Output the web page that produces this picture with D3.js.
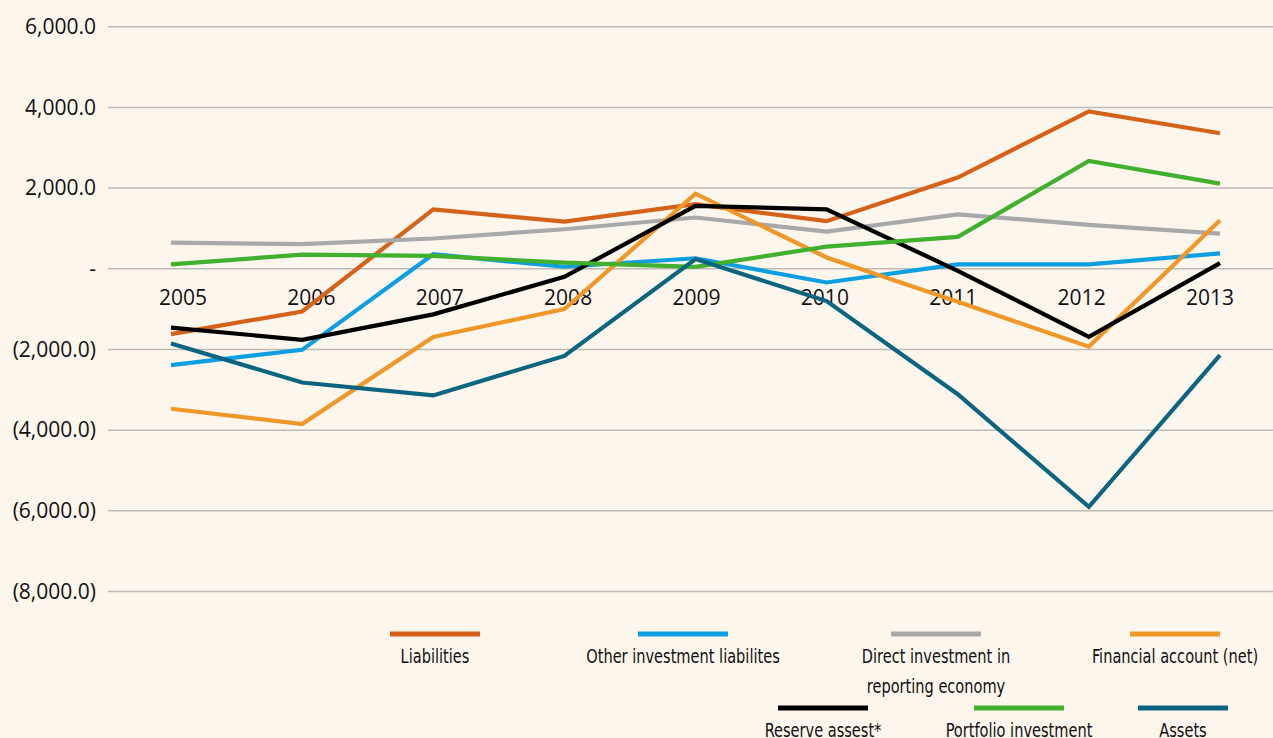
<!DOCTYPE html>
<html>
<head>
<meta charset="utf-8">
<script src="https://cdn.jsdelivr.net/npm/d3@7"></script>
<style>
  html, body { margin: 0; padding: 0; background: #fdf6ec; }
  svg { display: block; }
  .tick-label { font-family: "Open Sans", sans-serif; font-size: 21px; fill: #111; }
  .legend-label { font-family: "Liberation Sans Narrow", "DejaVu Sans Condensed", sans-serif; font-size: 20px; fill: #111; }
</style>
</head>
<body>
<div id="chart"></div>
<script>
// years on the x axis
const years = ["2005", "2006", "2007", "2008", "2009", "2010", "2011", "2012", "2013"];
// y ticks
const yTicks = [6000, 4000, 2000, 0, -2000, -4000, -6000, -8000];

// series values
const liabilities = [-1620, -1060, 1470, 1170, 1600, 1180, 2260, 3900, 3360];
const otherInvestmentLiab = [-2390, -2010, 360, 50, 260, -340, 110, 110, 380];
const directInvestment = [650, 610, 750, 980, 1270, 920, 1350, 1090, 870];
const financialAccount = [-3470, -3850, -1690, -1000, 1860, 280, -820, -1930, 1200];
const reserveAssets = [-1460, -1760, -1130, -200, 1560, 1470, -50, -1690, 140];
const portfolioInvestment = [110, 350, 320, 150, 45, 550, 790, 2670, 2110];
const assets = [-1850, -2820, -3140, -2160, 240, -800, -3110, -5900, -2140];

const seriesNames = ["Liabilities", "Other investment liabilites", "Direct investment in reporting economy",
  "Financial account (net)", "Reserve assest*", "Portfolio investment", "Assets"];
const seriesValues = [liabilities, otherInvestmentLiab, directInvestment, financialAccount,
  reserveAssets, portfolioInvestment, assets];
const seriesColors = ["#d5621b", "#0d9fe0", "#a8a9ad", "#f0972a", "#000000", "#41b02f", "#0c6580"];

const width = 1273, height = 738;
const margin = { top: 27, left: 108, right: 0 };

const svg = d3.select("#chart").append("svg")
  .attr("width", width)
  .attr("height", height);

svg.append("rect").attr("width", width).attr("height", height).attr("fill", "#fdf6ec");

const xScale = d3.scalePoint()
  .domain(years)
  .range([171, 1220]);

// the year labels in the original are spaced a little tighter than the points
const xLabelScale = d3.scalePoint()
  .domain(years)
  .range([183, 1210]);

const yScale = d3.scaleLinear()
  .domain([6000, -8000])
  .range([26.7, 591.5]);

//gridlines
svg.append("g").selectAll("line")
  .data(yTicks)
  .join("line")
  .attr("x1", margin.left)
  .attr("x2", width)
  .attr("y1", d => yScale(d))
  .attr("y2", d => yScale(d))
  .attr("stroke", "#bdbbb6")
  .attr("stroke-width", 1.5);

//y labels
const fmt = d3.format(",.1f");
svg.append("g").selectAll("text")
  .data(yTicks)
  .join("text")
  .attr("class", "tick-label")
  .attr("x", 96)
  .attr("y", d => yScale(d))
  .attr("dy", "0.35em")
  .attr("text-anchor", "end")
  .text(d => d === 0 ? "-" : d < 0 ? "(" + fmt(-d) + ")" : fmt(d));

//x labels sit just below the zero line
svg.append("g").selectAll("text")
  .data(years)
  .join("text")
  .attr("class", "tick-label")
  .attr("x", d => xLabelScale(d))
  .attr("y", yScale(0) + 36)
  .attr("text-anchor", "middle")
  .text(d => d);

//lines
const line = d3.line()
  .x((d, i) => xScale(years[i]))
  .y(d => yScale(d));

svg.append("g").selectAll("path")
  .data(seriesValues)
  .join("path")
  .attr("d", d => line(d))
  .attr("fill", "none")
  .attr("stroke", (d, i) => seriesColors[i])
  .attr("stroke-width", 4.2)
  .attr("stroke-linejoin", "miter");

//legend, two rows like the original
const legendLayout = [
  { cx: 435, y: 634 }, { cx: 683, y: 634 }, { cx: 936, y: 634 }, { cx: 1175, y: 634 },
  { cx: 823, y: 708 }, { cx: 1019, y: 708 }, { cx: 1183, y: 708 }
];
const legendLines = [["Liabilities"], ["Other investment liabilites"], ["Direct investment in", "reporting economy"],
  ["Financial account (net)"], ["Reserve assest*"], ["Portfolio investment"], ["Assets"]];

const legend = svg.append("g").selectAll("g")
  .data(seriesNames)
  .join("g")
  .attr("transform", (d, i) => "translate(" + legendLayout[i].cx + "," + legendLayout[i].y + ")");

legend.append("rect")
  .attr("x", -45)
  .attr("y", -2.5)
  .attr("width", 90)
  .attr("height", 5)
  .attr("fill", (d, i) => seriesColors[i]);

//the original uses a condensed face, so squeeze the text a bit
legend.each(function(d, i) {
  const g = d3.select(this);
  legendLines[i].forEach((t, k) => {
    g.append("text")
      .attr("class", "legend-label")
      .attr("transform", "translate(0," + (29 + k * 30) + ") scale(0.81,1)")
      .attr("text-anchor", "middle")
      .text(t);
  });
});
</script>
</body>
</html>
